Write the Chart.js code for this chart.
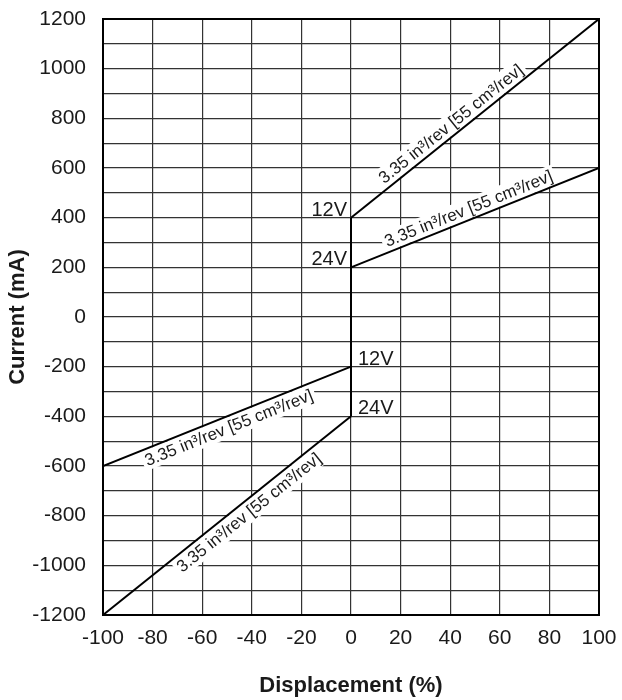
<!DOCTYPE html>
<html>
<head>
<meta charset="utf-8">
<script src="https://cdn.jsdelivr.net/npm/chart.js@4.4.1/dist/chart.umd.min.js"></script>
<style>
  html, body { margin: 0; padding: 0; background: #fff; }
  #wrap { width: 622px; height: 700px; }
</style>
</head>
<body>
<div id="wrap"><canvas id="currentChart"></canvas></div>
<script>
// tick labels
const xTicks = [-100, -80, -60, -40, -20, 0, 20, 40, 60, 80, 100];
const yTicks = [-1200, -1000, -800, -600, -400, -200, 0, 200, 400, 600, 800, 1000, 1200];

// series: displacement (%) vs current (mA)
const disp12Fwd = [0, 100];
const cur12Fwd = [400, 1200];
const disp24Fwd = [0, 100];
const cur24Fwd = [200, 600];
const disp12Rev = [-100, 0];
const cur12Rev = [-600, -200];
const disp24Rev = [-100, 0];
const cur24Rev = [-1200, -400];
const dispZero = [0, 0];
const curZero = [-400, 400];

const slopeText = '3.35 in³/rev [55 cm³/rev]';
const voltNames = ['12V', '24V', '12V', '24V'];

const FONT = "'Liberation Sans', Arial, Helvetica, sans-serif";

function pts(xs, ys) {
    return xs.map((x, i) => ({ x: x, y: ys[i] }));
}

const lineStyle = {
    showLine: true,
    borderColor: '#000',
    borderWidth: 2,
    pointRadius: 0,
    fill: false
};

const data = {
    datasets: [
        { ...lineStyle, label: voltNames[0], data: pts(disp12Fwd, cur12Fwd) },
        { ...lineStyle, label: voltNames[1], data: pts(disp24Fwd, cur24Fwd) },
        { ...lineStyle, label: voltNames[2], data: pts(disp12Rev, cur12Rev) },
        { ...lineStyle, label: voltNames[3], data: pts(disp24Rev, cur24Rev) },
        { ...lineStyle, label: 'zero', data: pts(dispZero, curZero) }
    ]
};

// where the slope text sits along each line (fraction) and on which side
const slopeLabels = [
    { ds: 0, t: 0.43, side: 1 },
    { ds: 1, t: 0.49, side: 1 },
    { ds: 2, t: 0.49, side: -1 },
    { ds: 3, t: 0.56, side: -1 }
];

function boxText(ctx, text, x, y) {
    const w = ctx.measureText(text).width;
    ctx.fillStyle = '#fff';
    ctx.fillRect(x - w / 2 - 3, y - 10, w + 6, 20);
    ctx.fillStyle = '#1a1a1a';
    ctx.fillText(text, x, y + 1);
}

const labelPlugin = {
    id: 'lineLabels',
    beforeDatasetsDraw(chart) {
        const ctx = chart.ctx;
        const xs = chart.scales.x, ys = chart.scales.y;

        // slope text rotated along the lines
        ctx.save();
        ctx.font = '17px ' + FONT;
        ctx.textAlign = 'center';
        ctx.textBaseline = 'middle';
        slopeLabels.forEach(l => {
            const d = chart.data.datasets[l.ds].data;
            const x0 = xs.getPixelForValue(d[0].x), y0 = ys.getPixelForValue(d[0].y);
            const x1 = xs.getPixelForValue(d[1].x), y1 = ys.getPixelForValue(d[1].y);
            const dx = x1 - x0, dy = y1 - y0;
            const len = Math.sqrt(dx * dx + dy * dy);
            const ang = Math.atan2(dy, dx);
            const off = 11 * l.side;
            const cx = x0 + dx * l.t + (dy / len) * off;
            const cy = y0 + dy * l.t - (dx / len) * off;
            ctx.save();
            ctx.translate(cx, cy);
            ctx.rotate(ang);
            boxText(ctx, slopeText, 0, 0);
            ctx.restore();
        });
        ctx.restore();

        // voltage labels at the x = 0 ends
        ctx.save();
        ctx.font = '20px ' + FONT;
        ctx.textBaseline = 'alphabetic';
        [0, 1, 2, 3].forEach(i => {
            const d = chart.data.datasets[i].data;
            const p = d.find(q => q.x === 0);
            const px = xs.getPixelForValue(p.x), py = ys.getPixelForValue(p.y);
            const text = voltNames[i];
            const w = ctx.measureText(text).width;
            const left = i < 2 ? px - 4 - w : px + 7;
            ctx.fillStyle = '#fff';
            ctx.fillRect(left - 2, py - 19, w + 4, 17);
            ctx.fillStyle = '#1a1a1a';
            ctx.fillText(text, left, py - 2);
        });
        ctx.restore();
    },
    afterDatasetsDraw(chart) {
        const a = chart.chartArea;
        const ctx = chart.ctx;
        ctx.save();
        ctx.strokeStyle = '#000';
        ctx.lineWidth = 2;
        ctx.strokeRect(a.left, a.top, a.right - a.left, a.bottom - a.top);
        ctx.restore();
    }
};

new Chart(document.getElementById('currentChart'), {
    type: 'scatter',
    data: data,
    plugins: [labelPlugin],
    options: {
        responsive: true,
        maintainAspectRatio: false,
        animation: false,
        layout: {
            padding: { left: 0, right: 23, top: 19, bottom: 0 }
        },
        plugins: {
            legend: { display: false },
            tooltip: { enabled: false }
        },
        scales: {
            x: {
                type: 'linear',
                min: -100,
                max: 100,
                afterBuildTicks: scale => { scale.ticks = xTicks.map(v => ({ value: v })); },
                afterFit: scale => {
                    scale.height = 85;
                    scale.paddingLeft = 0;
                    scale.paddingRight = 0;
                },
                ticks: {
                    font: { family: FONT, size: 21 },
                    color: '#1a1a1a',
                    padding: 11,
                    maxRotation: 0
                },
                grid: { color: '#333', lineWidth: 1.2, drawTicks: false },
                border: { display: true, color: '#000', width: 2 },
                title: {
                    display: true,
                    text: 'Displacement (%)',
                    font: { family: FONT, size: 22, weight: 'bold' },
                    color: '#1a1a1a',
                    padding: { top: 0, bottom: 1 }
                }
            },
            y: {
                type: 'linear',
                min: -1200,
                max: 1200,
                afterBuildTicks: scale => {
                    const t = [];
                    for (let v = -1200; v <= 1200; v += 100) t.push({ value: v });
                    scale.ticks = t;
                },
                afterFit: scale => {
                    scale.width = 103;
                    scale.paddingTop = 0;
                    scale.paddingBottom = 0;
                },
                ticks: {
                    font: { family: FONT, size: 21 },
                    color: '#1a1a1a',
                    padding: 17,
                    autoSkip: false,
                    callback: v => yTicks.includes(v) ? String(v) : ''
                },
                grid: { color: '#333', lineWidth: 1.2, drawTicks: false },
                border: { display: true, color: '#000', width: 2 },
                title: {
                    display: true,
                    text: 'Current (mA)',
                    font: { family: FONT, size: 22, weight: 'bold' },
                    color: '#1a1a1a',
                    padding: { top: 5, bottom: 0 }
                }
            }
        }
    }
});
</script>
</body>
</html>
